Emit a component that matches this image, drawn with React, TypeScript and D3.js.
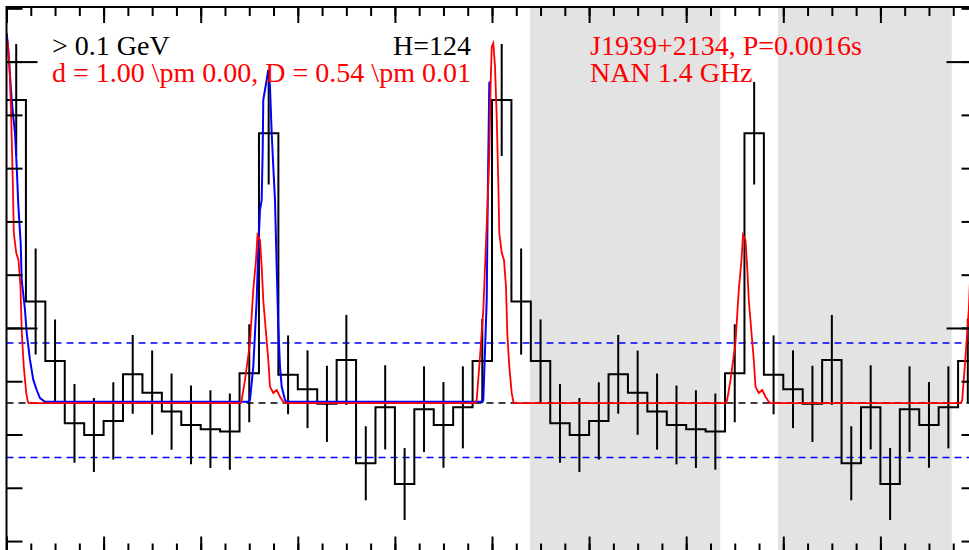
import React, { useEffect, useRef } from "react";
import * as d3 from "d3";

// Gamma-ray phase histogram (25 bins per rotation, shown for two rotations)
const binCounts = [
  585.6, 509.9, 487.6, 464.2, 459.8, 465.1, 482.6, 475.7, 468.6, 463.6,
  462.0, 461.1, 483.0, 573.1, 482.4, 477.0, 471.5, 488.0, 449.2, 470.2,
  441.4, 469.5, 463.6, 470.2, 487.6,
];
const binErrors = [
  21.0, 19.9, 15.6, 14.8, 13.9, 14.5, 14.8, 15.8, 14.3, 14.8,
  14.6, 14.3, 18.4, 19.2, 14.8, 14.6, 14.3, 16.9, 13.9, 15.8,
  13.5, 16.1, 16.1, 15.4, 15.8,
];
const rotations = 2;

// Radio profile (red), [phase, scaled counts], main pulse wraps around phase 0
const redMainPulse: [number, number][] = [
  [-0.034, 471.8], [-0.0315, 473.0], [-0.0247, 489.2], [-0.0179, 506.8],
  [-0.0124, 531.9], [-0.0087, 548.1], [-0.0056, 564.3], [-0.0027, 592.0],
  [-0.0006, 605.6], [0.0027, 606.9], [0.0062, 598.1], [0.0097, 579.3],
  [0.013, 554.4], [0.015, 535.7], [0.02, 528.2], [0.0247, 525.5],
  [0.0288, 515.5], [0.0315, 498.1], [0.0356, 485.5], [0.0406, 475.6],
  [0.0439, 472.3], [0.046, 471.8],
];
const redInterPulse: [number, number][] = [
  [0.482, 471.8], [0.4844, 473.0], [0.4913, 480.5], [0.5015, 494.4],
  [0.5083, 514.3], [0.5139, 525.5], [0.517, 534.9], [0.5221, 533.0],
  [0.5256, 523.0], [0.5289, 510.5], [0.5345, 498.1], [0.5392, 488.0],
  [0.5427, 478.0], [0.5495, 475.6], [0.5565, 476.7], [0.5633, 474.2],
  [0.5701, 472.3], [0.573, 471.8],
];

// Second profile (blue), first rotation only
const blueProfile: [number, number][] = [
  [0.0004, 610.7], [0.0037, 604.4], [0.0107, 585.6], [0.014, 579.3],
  [0.0175, 573.2], [0.021, 560.6], [0.0243, 546.2], [0.0292, 531.9],
  [0.0313, 518.0], [0.0381, 506.8], [0.0416, 498.1], [0.0484, 488.0],
  [0.0552, 480.5], [0.0622, 476.7], [0.069, 473.7], [0.0793, 472.3],
  [0.499, 472.3], [0.5015, 473.0], [0.5083, 485.5], [0.5153, 510.5],
  [0.5186, 529.3], [0.5221, 544.3], [0.5256, 548.1], [0.5277, 566.8],
  [0.5289, 585.6], [0.5359, 593.1], [0.5392, 596.9], [0.5427, 590.6],
  [0.5462, 573.2], [0.5495, 560.6], [0.553, 548.1], [0.5565, 523.0],
  [0.5598, 500.5], [0.5633, 485.5], [0.5668, 478.0], [0.5736, 473.0],
  [0.576, 472.3], [0.98, 472.3], [0.9821, 473.0], [0.9856, 491.7],
  [0.9891, 510.5], [0.9912, 548.1], [0.9944, 592.0], [0.9973, 592.5],
];

// Background level and +/- 1 sigma band
const background = 471.8;
const bandLevels = [451.4, 494.4];

// Off-pulse windows (shaded)
const offPulse: [number, number][] = [
  [1.078, 1.47],
  [1.589, 1.947],
];

const labelsLeft = ["> 0.1 GeV", "d = 1.00 \\pm 0.00, D = 0.54 \\pm 0.01"];
const labelH = "H=124";
const labelsRight = ["J1939+2134, P=0.0016s", "NAN 1.4 GHz"];

export default function App() {
  const ref = useRef<SVGSVGElement>(null);

  useEffect(() => {
    const svg = d3.select(ref.current);
    svg.selectAll("*").remove();

    // frame in pixels (plot extends past the right and bottom of the picture)
    const left = 6.5;
    const right = 977.5;
    const top = 7;
    const bottom = 552.5;

    const x = d3.scaleLinear().domain([0, rotations]).range([left, right]);
    const y = d3.scaleLinear().domain([415.7, 620.5]).range([bottom, top]);

    svg
      .append("clipPath")
      .attr("id", "plot-clip")
      .append("rect")
      .attr("x", left)
      .attr("y", top)
      .attr("width", right - left)
      .attr("height", bottom - top);

    const plot = svg.append("g").attr("clip-path", "url(#plot-clip)");

    // shaded off-pulse regions
    plot
      .selectAll("rect.off")
      .data(offPulse)
      .join("rect")
      .attr("class", "off")
      .attr("x", d => x(d[0]))
      .attr("width", d => x(d[1]) - x(d[0]))
      .attr("y", top)
      .attr("height", bottom - top)
      .attr("fill", "#e3e3e3");

    // background + band
    plot
      .append("line")
      .attr("x1", left)
      .attr("x2", right)
      .attr("y1", y(background))
      .attr("y2", y(background))
      .attr("stroke", "#000")
      .attr("stroke-width", 1.5)
      .attr("stroke-dasharray", "7,5");

    plot
      .selectAll("line.band")
      .data(bandLevels)
      .join("line")
      .attr("class", "band")
      .attr("x1", left)
      .attr("x2", right)
      .attr("y1", d => y(d))
      .attr("y2", d => y(d))
      .attr("stroke", "#0000ff")
      .attr("stroke-width", 1.5)
      .attr("stroke-dasharray", "7,5");

    // histogram, repeated for each rotation
    const nb = binCounts.length;
    const bins = d3.range(nb * rotations).map(i => ({
      lo: i / nb,
      hi: (i + 1) / nb,
      c: binCounts[i % nb],
      e: binErrors[i % nb],
    }));
    const stepPts: [number, number][] = bins.map(b => [b.lo, b.c]);
    stepPts.push([bins[bins.length - 1].hi, bins[bins.length - 1].c]);

    plot
      .append("path")
      .datum(stepPts)
      .attr("fill", "none")
      .attr("stroke", "#000")
      .attr("stroke-width", 2)
      .attr(
        "d",
        d3
          .line<[number, number]>()
          .x(d => x(d[0]))
          .y(d => y(d[1]))
          .curve(d3.curveStepAfter)
      );

    plot
      .selectAll("line.err")
      .data(bins)
      .join("line")
      .attr("class", "err")
      .attr("x1", d => x((d.lo + d.hi) / 2))
      .attr("x2", d => x((d.lo + d.hi) / 2))
      .attr("y1", d => y(d.c - d.e))
      .attr("y2", d => y(d.c + d.e))
      .attr("stroke", "#000")
      .attr("stroke-width", 2);

    const profileLine = d3
      .line<[number, number]>()
      .x(d => x(d[0]))
      .y(d => y(d[1]));

    // blue profile
    plot
      .append("path")
      .datum(blueProfile)
      .attr("fill", "none")
      .attr("stroke", "#0000ff")
      .attr("stroke-width", 2)
      .attr("d", profileLine);

    // red profile over all rotations
    const redPts: [number, number][] = [];
    for (let r = 0; r <= rotations; r++) {
      redMainPulse.forEach(p => redPts.push([p[0] + r, p[1]]));
      if (r < rotations) redInterPulse.forEach(p => redPts.push([p[0] + r, p[1]]));
    }
    redPts.sort((a, b) => a[0] - b[0]);

    plot
      .append("path")
      .datum(redPts)
      .attr("fill", "none")
      .attr("stroke", "#ff0000")
      .attr("stroke-width", 1.8)
      .attr("d", profileLine);

    // axes: ticks point inward
    const xMinor = d3.range(0, rotations + 0.001, 0.05);
    const xMajor = d3.range(0, rotations + 0.001, 0.2);
    const yMinor = d3.range(420, 620.5, 20);
    const yMajor = [500, 600];

    const styleAxis = (g: any) => {
      g.select(".domain").remove();
      g.selectAll("line").attr("stroke-width", 2);
      g.selectAll("text").remove();
    };

    const axes: [any, number, number, string][] = [
      [d3.axisTop(x).tickValues(xMinor).tickSize(-9), 0, top, ""],
      [d3.axisTop(x).tickValues(xMajor).tickSize(-16), 0, top, ""],
      [d3.axisBottom(x).tickValues(xMinor).tickSize(-9), 0, bottom, ""],
      [d3.axisBottom(x).tickValues(xMajor).tickSize(-16), 0, bottom, ""],
      [d3.axisLeft(y).tickValues(yMinor).tickSize(-16), left, 0, ""],
      [d3.axisLeft(y).tickValues(yMajor).tickSize(-31), left, 0, ""],
      [d3.axisRight(y).tickValues(yMinor).tickSize(-16), right, 0, ""],
      [d3.axisRight(y).tickValues(yMajor).tickSize(-31), right, 0, ""],
    ];
    axes.forEach(([ax, tx, ty]) => {
      svg
        .append("g")
        .attr("transform", `translate(${tx},${ty})`)
        .call(ax)
        .call(styleAxis);
    });

    svg
      .append("rect")
      .attr("x", left)
      .attr("y", top)
      .attr("width", right - left)
      .attr("height", bottom - top)
      .attr("fill", "none")
      .attr("stroke", "#000")
      .attr("stroke-width", 2);

    // labels
    const font = "'Liberation Serif', 'Times New Roman', serif";
    const text = svg
      .append("g")
      .attr("font-family", font)
      .attr("font-size", 28);

    text
      .append("text")
      .attr("x", 52)
      .attr("y", 55)
      .attr("fill", "#000")
      .text(labelsLeft[0]);
    text
      .append("text")
      .attr("x", 52)
      .attr("y", 82)
      .attr("fill", "#ff0000")
      .text(labelsLeft[1]);
    text
      .append("text")
      .attr("x", 471)
      .attr("y", 55)
      .attr("text-anchor", "end")
      .attr("fill", "#000")
      .text(labelH);
    labelsRight.forEach((t, i) =>
      text
        .append("text")
        .attr("x", 590)
        .attr("y", 55 + i * 27)
        .attr("fill", "#ff0000")
        .text(t)
    );
  }, []);

  return (
    <svg
      ref={ref}
      width={969}
      height={550}
      style={{ position: "absolute", left: 0, top: 0, background: "#fff" }}
    />
  );
}
